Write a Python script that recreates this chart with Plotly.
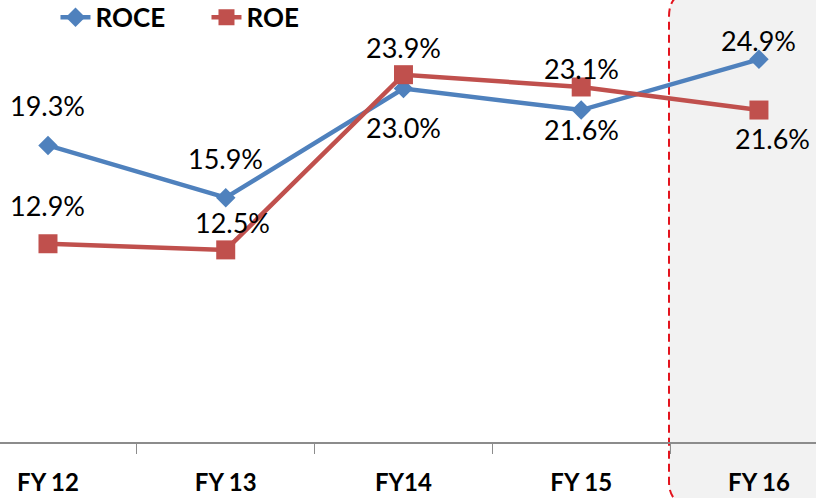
import plotly.graph_objects as go

# chart data
years = ["FY 12", "FY 13", "FY14", "FY 15", "FY 16"]
roce = [19.3, 15.9, 23.0, 21.6, 24.9]
roe = [12.9, 12.5, 23.9, 23.1, 21.6]

blue = "#4F81BD"
red = "#C0504D"
font_name = "Lato"

# label nudges (px) so labels sit where the original puts them
roce_shift = [40, 39, -39, -19, 19]
roe_shift = [38, 27, 27, 18, -28]
roe_xshift = [0, 7, 0, 0, 14]

fig = go.Figure()
fig.add_trace(go.Scatter(
    x=years, y=roce, name="ROCE", mode="lines+markers",
    line=dict(color=blue, width=4.5),
    marker=dict(symbol="diamond", size=15, color=blue),
))
fig.add_trace(go.Scatter(
    x=years, y=roe, name="ROE", mode="lines+markers",
    line=dict(color=red, width=4.5),
    marker=dict(symbol="square", size=19, color=red),
))

for i, yr in enumerate(years):
    fig.add_annotation(x=yr, y=roce[i], text=f"{roce[i]:.1f}%", showarrow=False,
                       yshift=roce_shift[i], font=dict(size=27, color="black"))
    fig.add_annotation(x=yr, y=roe[i], text=f"{roe[i]:.1f}%", showarrow=False,
                       yshift=roe_shift[i], xshift=roe_xshift[i],
                       font=dict(size=27, color="black"))

# highlighted FY16 box (rounded, dashed red outline)
x0, x1 = 669 / 816, 1.05
ytop, ybot = 1.018, -0.144
rx, ry = 0.03, 0.055
box = (f"M {x1},{ytop} L {x0 + rx},{ytop} Q {x0},{ytop} {x0},{ytop - ry} "
       f"L {x0},{ybot + ry} Q {x0},{ybot} {x0 + rx},{ybot} L {x1},{ybot} Z")
fig.add_shape(type="path", path=box, xref="paper", yref="paper", layer="below",
              fillcolor="#F2F2F2", line=dict(color="#E3141E", width=2, dash="8px,5px"))

fig.update_layout(
    width=816, height=498,
    margin=dict(l=0, r=0, t=0, b=56, autoexpand=False),
    paper_bgcolor="white", plot_bgcolor="rgba(0,0,0,0)",
    font=dict(family=font_name, size=27, color="black"),
    showlegend=True,
    legend=dict(orientation="h", x=0.068, y=1.014, xanchor="left", yanchor="top",
                font=dict(size=26, weight=700), bgcolor="rgba(0,0,0,0)",
                entrywidth=106, entrywidthmode="pixels", itemwidth=30),
    xaxis=dict(type="category", range=[-0.27, 4.321], showline=True,
               linecolor="#8C8C8C", linewidth=1.5, ticks="outside",
               tickson="boundaries", ticklen=10, tickcolor="#8C8C8C",
               showgrid=False, tickfont=dict(size=24, weight=700),
               ticklabelstandoff=18),
    yaxis=dict(range=[0, 28.76], visible=False, showgrid=False, zeroline=False),
)

# page body has a default 8px margin; drop it so the chart fills the window
fig.write_html("out.html", config={"displayModeBar": False},
               post_script="document.body.style.margin='0';")
